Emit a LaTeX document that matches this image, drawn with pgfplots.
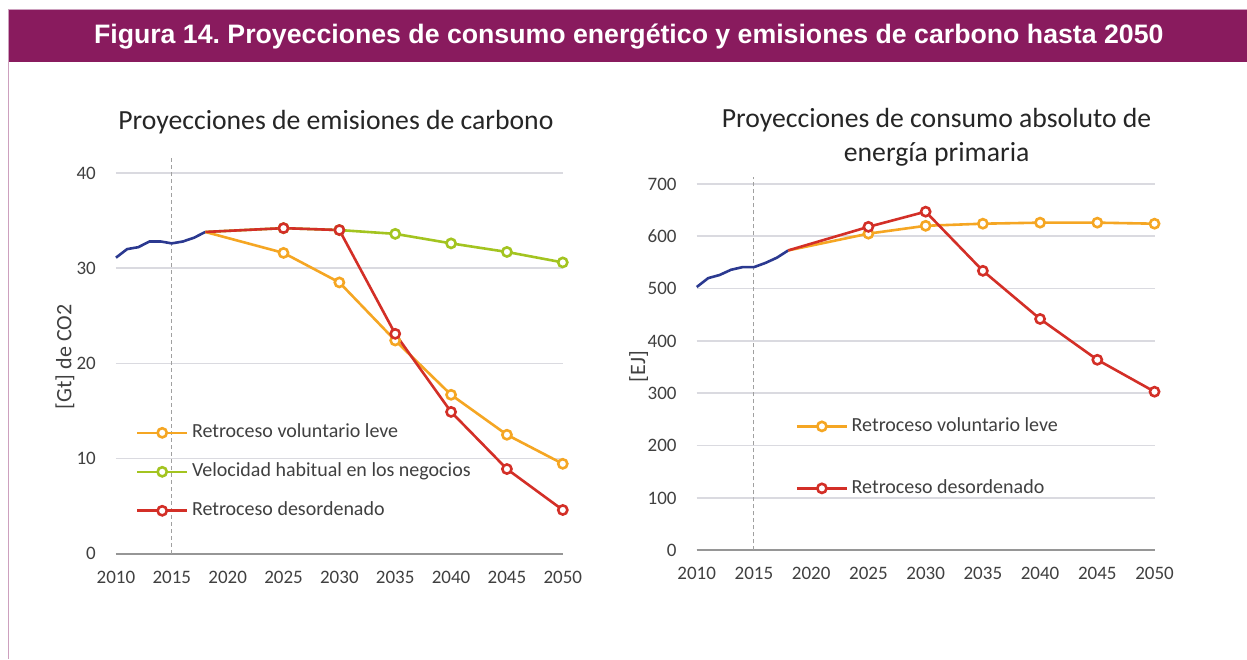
\documentclass[border=0pt]{standalone}
\usepackage{fontspec}
\setmainfont{Carlito}
\newfontfamily\arialfont{Liberation Sans}
\usepackage{pgfplots}
\pgfplotsset{compat=1.18}
\definecolor{bar}{RGB}{137,27,94}
\definecolor{barline}{RGB}{205,160,190}
\definecolor{cyel}{RGB}{245,166,35}
\definecolor{cgrn}{RGB}{163,196,32}
\definecolor{cred}{RGB}{211,47,39}
\definecolor{cblu}{RGB}{43,57,144}
\definecolor{cgrid}{RGB}{218,218,224}
\definecolor{caxis}{RGB}{150,150,150}
\definecolor{ctxt}{RGB}{64,64,64}
\definecolor{ctitle}{RGB}{38,38,38}
\definecolor{cdash}{RGB}{160,160,160}
\frenchspacing

\pgfplotsset{
 mystyle/.style={
  scale only axis, anchor=south west,
  axis x line*=bottom, axis y line*=left,
  axis line style={-},
  y axis line style={draw=none},
  x axis line style={draw=caxis, line width=2.2bp},
  major tick length=0pt,
  ymajorgrids, grid style={cgrid, line width=1.6bp},
  xmin=2010, xmax=2050,
  xtick={2010,2015,...,2050},
  /pgf/number format/1000 sep={},
  /pgf/number format/assume math mode=true,
  tick label style={font=\fontsize{19bp}{22bp}\selectfont, text=ctxt},
  xticklabel style={inner sep=0pt, anchor=north, yshift=-17bp},
  yticklabel style={inner sep=0pt, anchor=east, xshift=-20bp},
  clip=false,
  legend cell align=left,
  legend style={draw=none, fill=none, inner sep=0pt, outer sep=0pt, column sep=3.5bp,
    font=\fontsize{20bp}{24bp}\selectfont, text=ctxt,
    nodes={inner sep=0pt, text height=13bp, text depth=3bp}},
  legend image code/.code={\draw[#1, mark indices={2}] plot coordinates {(0bp,0bp) (25bp,0bp) (50bp,0bp)};},
  every axis plot/.append style={line width=2.6bp, mark size=4.6bp, mark options={fill=white, solid}},
 }
}

\begin{document}
\begin{tikzpicture}
\fill[white] (0bp,0bp) rectangle (1247bp,659bp);
\fill[bar] (8bp,597bp) rectangle (1247bp,649bp);
\draw[barline, line width=1bp] (1247bp,649.5bp) -- (8.5bp,649.5bp) -- (8.5bp,0bp);
\node[anchor=base, text=white, font=\arialfont\fontsize{26.7bp}{30bp}\selectfont\bfseries] at (629bp,615bp)
 {Figura 14. Proyecciones de consumo energético y emisiones de carbono hasta 2050};

\node[anchor=base, text=ctitle, font=\fontsize{27.7bp}{33bp}\selectfont] at (336bp,529bp) {Proyecciones de emisiones de carbono};
\node[anchor=base, text=ctitle, font=\fontsize{27.7bp}{33bp}\selectfont] at (937bp,531bp) {Proyecciones de consumo absoluto de};
\node[anchor=base, text=ctitle, font=\fontsize{27.7bp}{33bp}\selectfont] at (937bp,497bp) {energía primaria};

\node[rotate=90, text=ctxt, font=\fontsize{22bp}{24bp}\selectfont] at (65bp,302bp) {[Gt] de CO2};
\node[rotate=90, text=ctxt, font=\fontsize{22bp}{24bp}\selectfont] at (639bp,292bp) {[EJ]};

% Left chart: carbon emissions
\begin{axis}[mystyle, at={(116bp,105bp)}, width=447bp, height=381bp,
  ymin=0, ymax=40, ytick={0,10,...,40},
  legend style={at={(axis description cs:0.0447,0.3386)}, anchor=north west, row sep=23bp}]
\draw[cdash, dashed, line width=1bp, dash pattern=on 4bp off 3bp] (axis cs:2015,0) -- (axis cs:2015,41.7);
\addplot[cblu, no markers, forget plot] coordinates {
 (2010,31.1) (2011,32.0) (2012,32.2) (2013,32.8) (2014,32.8) (2015,32.6) (2016,32.8) (2017,33.2) (2018,33.8)};
\addplot[cyel, mark=*, mark indices={2,3,4,5,6,7}] coordinates {
 (2018,33.8) (2025,31.6) (2030,28.5) (2035,22.4) (2040,16.7) (2045,12.5) (2050,9.45)};
\addlegendentry{Retroceso voluntario leve}
\addplot[cgrn, mark=*, mark indices={2,3,4,5,6,7}] coordinates {
 (2018,33.8) (2025,34.2) (2030,34.0) (2035,33.6) (2040,32.6) (2045,31.7) (2050,30.6)};
\addlegendentry{Velocidad habitual en los negocios}
\addplot[cred, mark=*, mark indices={2,3,4,5,6,7}] coordinates {
 (2018,33.8) (2025,34.2) (2030,34.0) (2035,23.1) (2040,14.9) (2045,8.9) (2050,4.6)};
\addlegendentry{Retroceso desordenado}
\end{axis}

% Right chart: primary energy
\begin{axis}[mystyle, at={(697bp,108.5bp)}, width=458bp, height=366.5bp,
  ymin=0, ymax=700, ytick={0,100,...,700},
  legend style={at={(axis description cs:0.216,0.36)}, anchor=north west, row sep=46bp}]
\draw[cdash, dashed, line width=1bp, dash pattern=on 4bp off 3bp] (axis cs:2015,0) -- (axis cs:2015,713);
\addplot[cblu, no markers, forget plot] coordinates {
 (2010,503) (2011,520) (2012,526) (2013,536) (2014,541) (2015,541) (2016,549) (2017,559) (2018,573)};
\addplot[cyel, mark=*, mark indices={2,3,4,5,6,7}] coordinates {
 (2018,573) (2025,605) (2030,620) (2035,624) (2040,626) (2045,626) (2050,624)};
\addlegendentry{Retroceso voluntario leve}
\addplot[cred, mark=*, mark indices={2,3,4,5,6,7}] coordinates {
 (2018,573) (2025,618) (2030,647) (2035,534) (2040,442) (2045,364) (2050,303)};
\addlegendentry{Retroceso desordenado}
\end{axis}
\end{tikzpicture}
\end{document}
